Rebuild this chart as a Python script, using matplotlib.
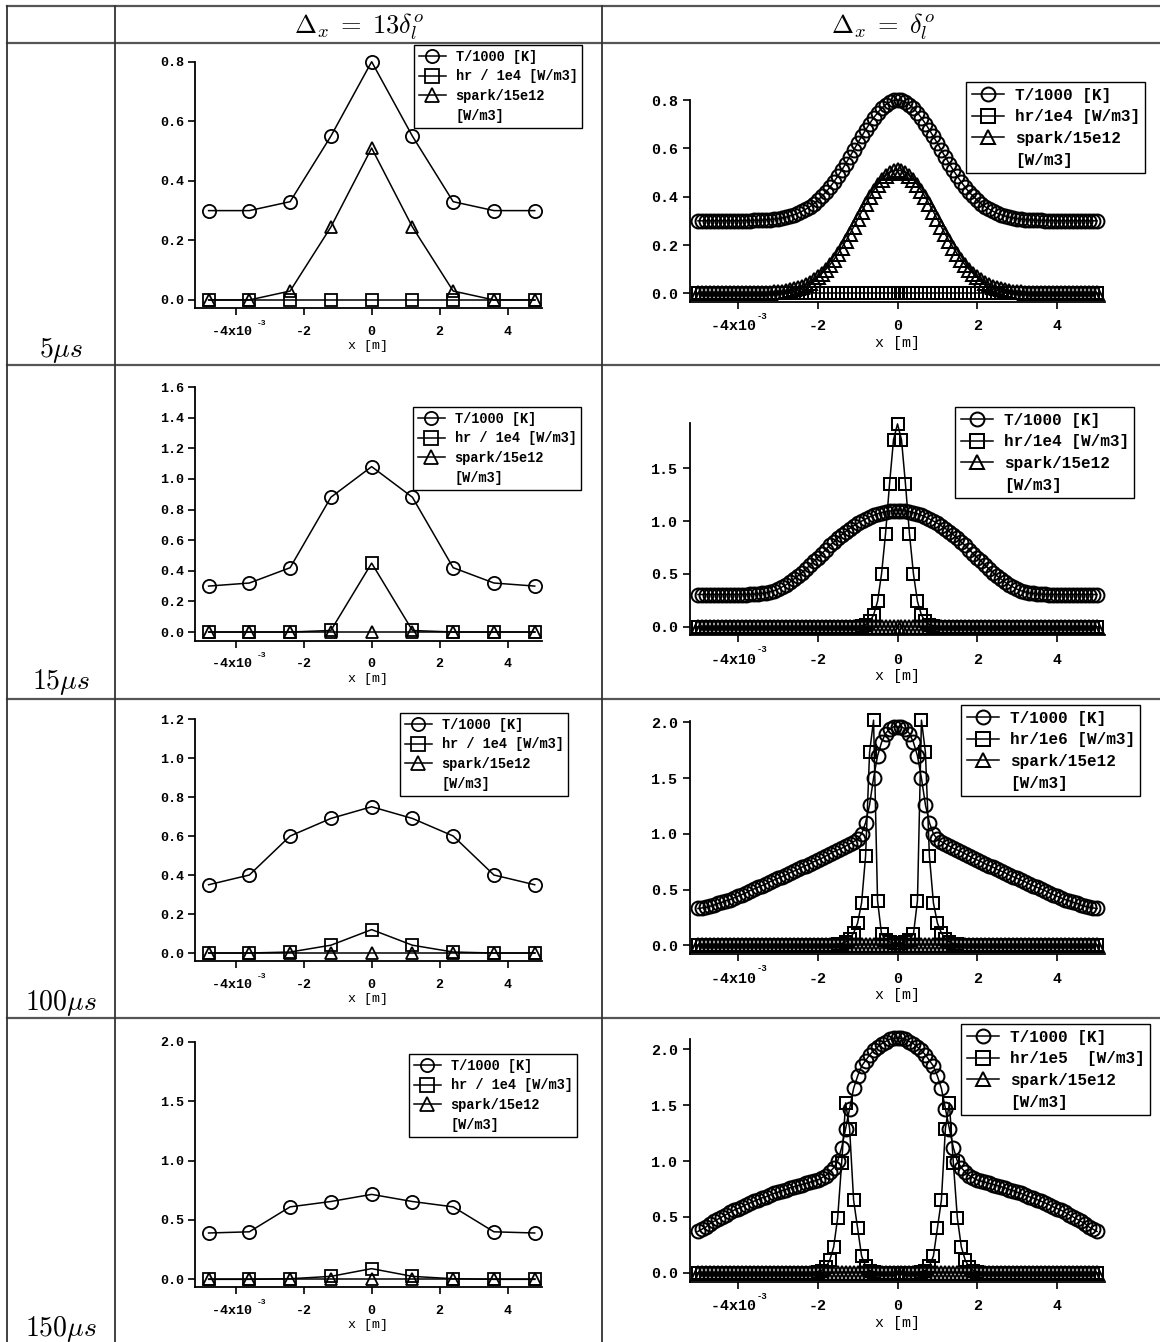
import numpy as np
import matplotlib
matplotlib.use("Agg")
import matplotlib.pyplot as plt
from matplotlib.lines import Line2D
from matplotlib.ticker import FormatStrFormatter

plt.rcParams['font.family'] = ['Liberation Mono', 'DejaVu Sans Mono']
plt.rcParams['font.weight'] = 'bold'
plt.rcParams['axes.unicode_minus'] = False

# ---------------- data ----------------
# coarse grid (dx = 13 delta_l), x in mm
x_coarse = [-4.8, -3.6, -2.4, -1.2, 0.0, 1.2, 2.4, 3.6, 4.8]

T_5_c = [0.30, 0.30, 0.33, 0.55, 0.80, 0.55, 0.33, 0.30, 0.30]
hr_5_c = [0, 0, 0, 0, 0, 0, 0, 0, 0]
sp_5_c = [0, 0, 0.03, 0.245, 0.51, 0.245, 0.03, 0, 0]

T_15_c = [0.30, 0.32, 0.42, 0.88, 1.08, 0.88, 0.42, 0.32, 0.30]
hr_15_c = [0, 0, 0, 0.01, 0.45, 0.01, 0, 0, 0]
sp_15_c = [0, 0, 0, 0, 0, 0, 0, 0, 0]

T_100_c = [0.35, 0.40, 0.60, 0.69, 0.75, 0.69, 0.60, 0.40, 0.35]
hr_100_c = [0, 0, 0.005, 0.04, 0.12, 0.04, 0.005, 0, 0]
sp_100_c = [0, 0, 0, 0, 0, 0, 0, 0, 0]

T_150_c = [0.39, 0.40, 0.61, 0.655, 0.715, 0.655, 0.61, 0.40, 0.39]
hr_150_c = [0, 0, 0.005, 0.025, 0.09, 0.025, 0.005, 0, 0]
sp_150_c = [0, 0, 0, 0, 0, 0, 0, 0, 0]

# fine grid (dx = delta_l): profiles are symmetric, values read for x = 0 .. 5 mm
x_half = list(np.arange(51) / 10)

T_5_f = [0.800, 0.798, 0.791, 0.780, 0.766, 0.747, 0.726, 0.702, 0.676, 0.649,
         0.621, 0.592, 0.564, 0.536, 0.509, 0.484, 0.460, 0.438, 0.418, 0.401,
         0.385, 0.370, 0.358, 0.348, 0.339, 0.331, 0.325, 0.320, 0.315, 0.312,
         0.309, 0.307, 0.305, 0.304, 0.303, 0.302, 0.302, 0.301, 0.301, 0.301,
         0.300, 0.300, 0.300, 0.300, 0.300, 0.300, 0.300, 0.300, 0.300, 0.300,
         0.300]
hr_5_f = [0.0] * 51
sp_5_f = [0.510, 0.507, 0.500, 0.487, 0.470, 0.449, 0.425, 0.397, 0.368, 0.338,
          0.306, 0.275, 0.244, 0.215, 0.188, 0.162, 0.138, 0.117, 0.098, 0.081,
          0.066, 0.054, 0.043, 0.034, 0.027, 0.021, 0.016, 0.012, 0.009, 0.007,
          0.005, 0.004, 0.003, 0.002, 0.001, 0.001] + [0.0] * 15

T_15_f = [1.100, 1.100, 1.095, 1.090, 1.080, 1.070, 1.055, 1.040, 1.020, 1.000,
          0.980, 0.955, 0.930, 0.900, 0.870, 0.840, 0.800, 0.770, 0.730, 0.690,
          0.655, 0.620, 0.580, 0.545, 0.510, 0.480, 0.450, 0.420, 0.395, 0.375,
          0.355, 0.340, 0.330, 0.320, 0.315, 0.310, 0.308, 0.306, 0.305, 0.305,
          0.305, 0.305, 0.305, 0.305, 0.305, 0.305, 0.305, 0.305, 0.305, 0.305,
          0.305]
hr_15_f = [1.92, 1.77, 1.35, 0.88, 0.50, 0.24, 0.11, 0.05, 0.02, 0.01] + [0.0] * 41
sp_15_f = [0.0] * 51

T_100_f = [1.96, 1.96, 1.94, 1.90, 1.82, 1.70, 1.50, 1.26, 1.10, 1.00,
           0.95, 0.93, 0.91, 0.89, 0.87, 0.855, 0.84, 0.82, 0.80, 0.78,
           0.765, 0.75, 0.73, 0.715, 0.70, 0.68, 0.665, 0.65, 0.63, 0.615,
           0.60, 0.585, 0.57, 0.55, 0.535, 0.52, 0.505, 0.49, 0.47, 0.455,
           0.44, 0.425, 0.41, 0.40, 0.385, 0.375, 0.36, 0.35, 0.34, 0.335,
           0.33]
hr_100_f = [0.02, 0.02, 0.03, 0.05, 0.10, 0.40, 2.02, 1.73, 0.80, 0.38,
            0.20, 0.11, 0.06, 0.03, 0.015, 0.01] + [0.0] * 35
sp_100_f = [0.0] * 51

T_150_f = [2.10, 2.10, 2.09, 2.07, 2.05, 2.02, 1.99, 1.95, 1.90, 1.85,
           1.76, 1.65, 1.47, 1.29, 1.12, 1.00, 0.94, 0.90, 0.87, 0.85,
           0.83, 0.82, 0.81, 0.80, 0.79, 0.78, 0.77, 0.76, 0.745, 0.735,
           0.72, 0.71, 0.695, 0.68, 0.67, 0.655, 0.64, 0.625, 0.61, 0.59,
           0.575, 0.56, 0.54, 0.52, 0.50, 0.48, 0.46, 0.44, 0.41, 0.39,
           0.37]
hr_150_f = [0, 0, 0, 0, 0, 0, 0.01, 0.02, 0.06, 0.15,
            0.40, 0.65, 1.29, 1.52, 0.98, 0.49, 0.23, 0.11, 0.05, 0.02,
            0.01] + [0.0] * 30
sp_150_f = [0.0] * 51

times = [r'$5\mu s$', r'$15\mu s$', r'$100\mu s$', r'$150\mu s$']
headers = [r'$\Delta_x\;=\;13\delta_l^o$', r'$\Delta_x\;=\;\delta_l^o$']
hr_coarse_labels = ['hr / 1e4 [W/m3]'] * 4
hr_fine_labels = ['hr/1e4 [W/m3]', 'hr/1e4 [W/m3]', 'hr/1e6 [W/m3]', 'hr/1e5  [W/m3]']


def mirror(v):
    v = list(v)
    return v[:0:-1] + v


x_fine = [-v for v in x_half[:0:-1]] + x_half

# ---------------- layout (pixels) ----------------
W, H = 1160, 1342
fig = plt.figure(figsize=(W / 100, H / 100), dpi=100)


def fx(px):
    return px / W


def fy(py):
    return 1 - py / H


def hline(y, x0=7, x1=1160):
    fig.add_artist(Line2D([fx(x0), fx(x1)], [fy(y), fy(y)], transform=fig.transFigure,
                          color='#555555', lw=1.6))


def vline(x, y0=6, y1=1342):
    fig.add_artist(Line2D([fx(x), fx(x)], [fy(y0), fy(y1)], transform=fig.transFigure,
                          color='#333333', lw=1.3))


for y in [6, 43, 365, 699, 1018]:
    hline(y)
for x in [7, 115, 602]:
    vline(x)

fig.text(fx(359), fy(33), headers[0], ha='center', va='baseline', fontsize=19, math_fontfamily='cm')
fig.text(fx(883), fy(33), headers[1], ha='center', va='baseline', fontsize=19, math_fontfamily='cm')

for lab, yb in zip(times, [357, 689, 1010, 1336]):
    fig.text(fx(61), fy(yb), lab, ha='center', va='baseline', fontsize=20, math_fontfamily='cm')

# panel geometry: (left, top, right, bottom) in px, ylim, yticks, legend top-left
coarse_panels = [
    ((195, 61.7, 541.5, 308.3), (-0.028, 0.8), [0, 0.2, 0.4, 0.6, 0.8], (414, 45)),
    ((195, 387, 541.5, 640.6), (-0.056, 1.6), [0, 0.2, 0.4, 0.6, 0.8, 1.0, 1.2, 1.4, 1.6], (413, 407)),
    ((195, 719, 541.5, 961.2), (-0.042, 1.2), [0, 0.2, 0.4, 0.6, 0.8, 1.0, 1.2], (400, 713)),
    ((195, 1041.7, 541.5, 1287.3), (-0.067, 2.0), [0, 0.5, 1.0, 1.5, 2.0], (409, 1054)),
]
fine_panels = [
    ((690, 100, 1105, 301.7), (-0.0345, 0.8), [0, 0.2, 0.4, 0.6, 0.8], (966, 82)),
    ((690, 423.3, 1105, 635.3), (-0.081, 1.926), [0, 0.5, 1.0, 1.5], (955, 407)),
    ((690, 720.7, 1105, 954.3), (-0.081, 2.015), [0, 0.5, 1.0, 1.5, 2.0], (961, 705)),
    ((690, 1039.3, 1105, 1281.7), (-0.08, 2.09), [0, 0.5, 1.0, 1.5, 2.0], (961, 1024)),
]

coarse_data = [(T_5_c, hr_5_c, sp_5_c), (T_15_c, hr_15_c, sp_15_c),
               (T_100_c, hr_100_c, sp_100_c), (T_150_c, hr_150_c, sp_150_c)]
fine_data = [(T_5_f, hr_5_f, sp_5_f), (T_15_f, hr_15_f, sp_15_f),
             (T_100_f, hr_100_f, sp_100_f), (T_150_f, hr_150_f, sp_150_f)]


def panel(geom, x_mm, T, hr, sp, hr_label, xlim, fine):
    (l, t, r, b), ylim, yticks, (lx, ly) = geom
    ax = fig.add_axes([fx(l), fy(b), fx(r) - fx(l), fy(t) - fy(b)])
    ax.patch.set_alpha(0)
    x = np.array(x_mm) * 1e-3
    ms = 10 if fine else 9.5
    mew = 1.45 if fine else 1.3
    tsize = 10.8 if fine else 9.6
    lsize = 11.5 if fine else 9.8
    kw = dict(color='k', lw=1.1, mfc='none', mew=mew, clip_on=False)
    ax.plot(x, T, marker='o', ms=ms, **kw)
    ax.plot(x, hr, marker='s', ms=ms - 0.8, **kw)
    ax.plot(x, sp, marker='^', ms=ms - 0.5, **kw)
    ax.set_xlim(*xlim)
    ax.set_ylim(*ylim)
    for s in ['top', 'right']:
        ax.spines[s].set_visible(False)
    for s in ['left', 'bottom']:
        ax.spines[s].set_linewidth(1.3)
    ax.set_yticks(yticks)
    ax.yaxis.set_major_formatter(FormatStrFormatter('%.1f'))
    ax.set_xticks([-4e-3, -2e-3, 0, 2e-3, 4e-3])
    ax.set_xticklabels(['-4x10 ', '-2', '0', '2', '4'])
    ax.tick_params(direction='out', length=5, width=1.2, labelsize=tsize)
    ax.tick_params(axis='x', pad=7.5)
    ax.tick_params(axis='y', pad=3.5 if fine else 3)
    ax.set_xlabel('x [m]', fontsize=tsize, labelpad=2)
    sx = tsize * 1.22 if fine else tsize * 1.22 + 3.5
    sy = -10.5 if fine else -11
    ax.annotate('-3', xy=(-4e-3, 0), xycoords=('data', 'axes fraction'),
                xytext=(sx, sy), textcoords='offset points',
                fontsize=tsize * 0.6, ha='left', va='center')
    hk = dict(color='k', lw=1.1, mfc='none', mew=mew, ms=ms)
    handles = [Line2D([], [], marker='o', **hk), Line2D([], [], marker='s', **hk),
               Line2D([], [], marker='^', **hk), Line2D([], [], ls='none')]
    labels = ['T/1000 [K]', hr_label, 'spark/15e12', '[W/m3]']
    leg = ax.legend(handles, labels, loc='upper left', bbox_to_anchor=(fx(lx), fy(ly)),
                    bbox_transform=fig.transFigure, borderaxespad=0, fancybox=False,
                    edgecolor='k', framealpha=1, fontsize=lsize, borderpad=0.35,
                    labelspacing=0.42, handlelength=2.0, handletextpad=0.7)
    leg.get_frame().set_linewidth(1.0)
    return ax


for i in range(4):
    T, hr, sp = coarse_data[i]
    panel(coarse_panels[i], x_coarse, T, hr, sp, hr_coarse_labels[i], (-5.2e-3, 5.0e-3), False)
    T, hr, sp = fine_data[i]
    panel(fine_panels[i], x_fine, mirror(T), mirror(hr), mirror(sp), hr_fine_labels[i],
          (-5.2e-3, 5.2e-3), True)

fig.savefig('out.png', dpi=100)
